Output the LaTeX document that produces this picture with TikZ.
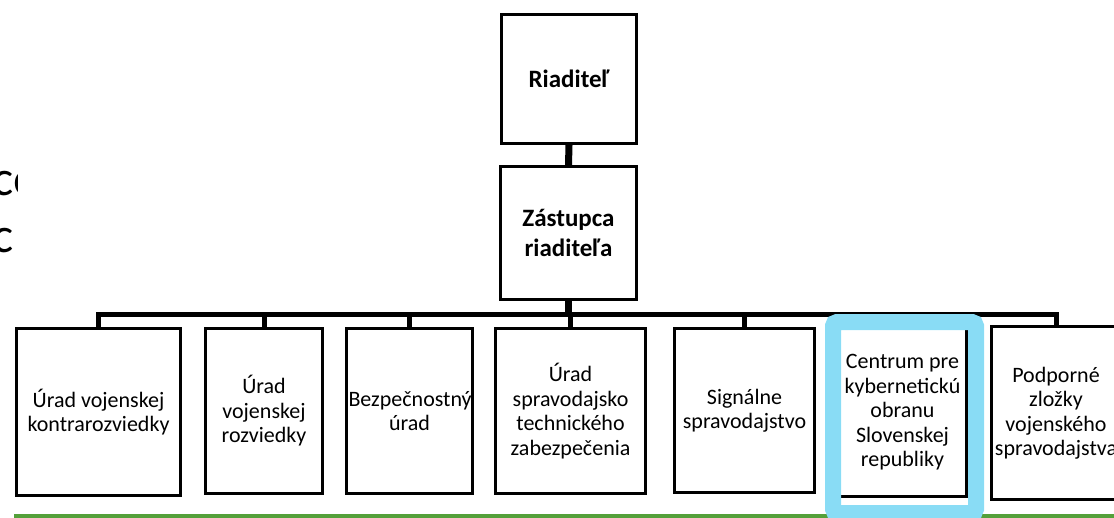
\documentclass[tikz,border=0pt]{standalone}
\usepackage{fontspec}
\setmainfont{Carlito}

\definecolor{highlightcyan}{RGB}{137,220,245}
\definecolor{rulegreen}{RGB}{84,160,58}

\begin{document}
\begin{tikzpicture}[x=1pt,y=-1pt,
    unitbox/.style={draw,line width=3pt,inner sep=2pt,align=flush center,font=\unitfontsize},
    headbox/.style={draw,line width=3pt,inner sep=2pt,align=center,font=\headfontsize\bfseries},
    busline/.style={line width=5pt,line join=miter}]
    \providecommand{\unitfontsize}{\fontsize{22pt}{24.5pt}\selectfont}
    \providecommand{\headfontsize}{\fontsize{25pt}{30pt}\selectfont}
    \providecommand{\slidefontsize}{\fontsize{50pt}{50pt}\selectfont}
    \useasboundingbox (0,0) rectangle (1114,517);
    % slide text behind the chart
    \begin{scope}
        \clip (0,150) rectangle (17,290);
        \node[anchor=base west,inner sep=0,font=\slidefontsize] (slidea) at (-7.5,195) {co};
        \node[anchor=base west,inner sep=0,font=\slidefontsize] (slideb) at (-7.5,252) {c};
    \end{scope}
    \node[headbox,minimum width=135pt,minimum height=129pt] (riad) at (569,79) {Riaditeľ};
    \node[headbox,minimum width=136pt,minimum height=133pt] (zast) at (568.5,233) {Zástupca\\riaditeľa};
    \node[unitbox,minimum width=164pt,minimum height=167pt,text width=160pt] (kontra) at (98.5,412) {Úrad vojenskej\\kontrarozviedky};
    \node[unitbox,minimum width=117pt,minimum height=165pt,text width=113pt] (rozv) at (264,411) {Úrad\\vojenskej\\rozviedky};
    \node[unitbox,minimum width=126pt,minimum height=165pt,text width=122pt] (bezp) at (409.5,411) {Bezpečnostný\\úrad};
    \node[unitbox,minimum width=150pt,minimum height=165pt,text width=146pt] (sptech) at (570.5,411) {Úrad\\spravodajsko\\technického\\zabezpečenia};
    \node[unitbox,minimum width=140pt,minimum height=164pt,text width=136pt] (signal) at (744.5,410.5) {Signálne\\spravodajstvo};
    \node[unitbox,minimum width=128pt,minimum height=168pt,text width=124pt] (kyber) at (902.5,412.5) {Centrum pre\\kybernetickú\\obranu\\Slovenskej\\republiky};
    \node[unitbox,minimum width=129pt,minimum height=173pt,text width=125pt] (podpor) at (1056,413) {Podporné\\zložky\\vojenského\\spravodajstva};
    \coordinate (bus) at (0,314.5);
    \draw[line width=7pt] (riad.south) -- (zast.north);
    \draw[line width=7pt] (zast.south) -- (zast.south |- bus);
    \draw[busline] (kontra.north) -- (kontra.north |- bus) -- (podpor.north |- bus) -- (podpor.north);
    \foreach \unit in {rozv,bezp,sptech,signal,kyber}
        \draw[busline] (\unit.north) -- (\unit.north |- bus);
    \draw[rulegreen,line width=5pt] (14,516) -- (1114,516);
    \draw[highlightcyan,line width=16pt,rounded corners=4pt] (833,322) rectangle (976,513);
\end{tikzpicture}
\end{document}
